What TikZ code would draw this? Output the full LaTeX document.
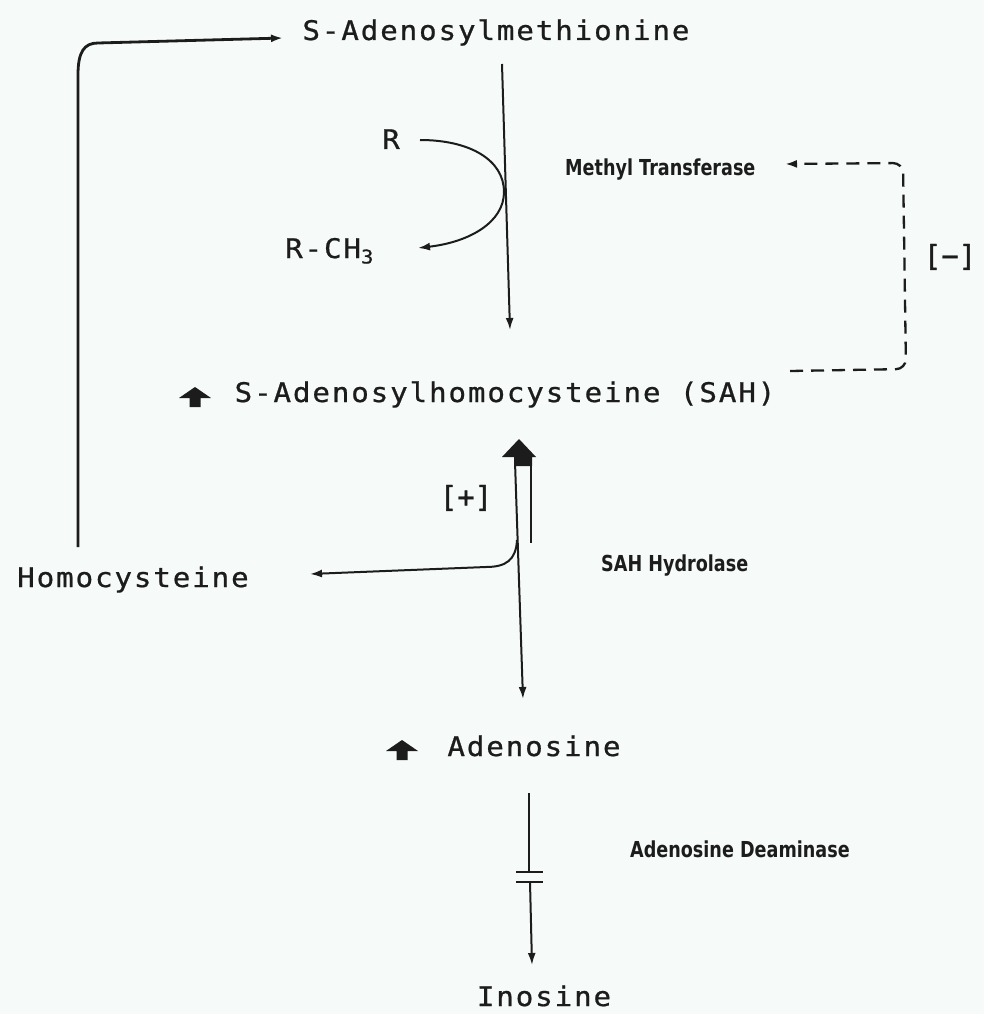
\documentclass[tikz,border=0pt]{standalone}
\usepackage{fontspec}
\usetikzlibrary{arrows.meta,calc}
\newfontfamily\labfont[FakeStretch=1.08,LetterSpace=7,FakeBold=0.8]{DejaVu Sans Mono}
\newfontfamily\brkfont[FakeBold=1.2]{DejaVu Sans Mono}
\newfontfamily\enzfont[FakeStretch=0.8]{DejaVu Sans}
\definecolor{ink}{RGB}{28,28,28}
\definecolor{paper}{RGB}{246,250,249}
\begin{document}
\begin{tikzpicture}[x=1pt,y=-1pt,
  lab/.style={font=\labfont\fontsize{27}{32}\selectfont, text=ink, inner sep=0pt, anchor=base},
  brk/.style={font=\brkfont\fontsize{29}{34}\selectfont, text=ink, inner sep=0pt, anchor=base},
  enz/.style={font=\enzfont\bfseries\fontsize{22}{26}\selectfont, text=ink, inner sep=0pt, anchor=base west},
  ln/.style={draw=ink, line width=2pt},
  arrw/.style={-{Latex[length=12pt,width=8pt]}},
  dsh/.style={draw=ink, line width=2.3pt, dash pattern=on 13pt off 8pt},
  blockup/.pic={\fill[ink] (-5.5,0) -- (-5.5,-9) -- (-16,-9) -- (0,-20) -- (16,-9) -- (5.5,-9) -- (5.5,0) -- cycle;}]
\fill[paper] (0,0) rectangle (984,1014);
\useasboundingbox (0,0) rectangle (984,1014);

% labels
\node[lab] (sam) at (496,40) {S-Adenosylmethionine};
\node[lab] (sah) at (505,402) {S-Adenosylhomocysteine (SAH)};
\node[lab] (hcy) at (133,587) {Homocysteine};
\node[lab] (ado) at (534,756) {Adenosine};
\node[lab] (ino) at (544,1006) {Inosine};
\node[lab] (r) at (391,149) {R};
\node[lab,anchor=base west] (rch) at (285,258) {R-CH\textsubscript{3}};
\node[brk] (plus) at (466,507) {[+]};
\node[brk] (minus) at (950,266) {[−]};
\node[enz] (mt) at (565,175) {Methyl Transferase};
\node[enz] (hyd) at (601,571) {SAH Hydrolase};
\node[enz] (ada) at (630,857) {Adenosine Deaminase};

% block arrows
\pic at (195,407) {blockup};
\pic at (402,760) {blockup};

% coordinates
\coordinate (loopS) at (78,547);
\coordinate (loopE) at (283,38);
\coordinate (samB) at (502,64);
\coordinate (sahT) at (510,330);
\coordinate (rS) at (420,140);
\coordinate (rE) at (418,248);
\coordinate (sahR) at (790,371);
\coordinate (mtR) at (785,164);
\coordinate (hydTop) at (515,462);
\coordinate (hydR) at (531,462);
\coordinate (hydRb) at (531,543);
\coordinate (adoT) at (523,699);
\coordinate (hcyJ) at (517,540);
\coordinate (hcyE) at (310,574);
\coordinate (adaS) at (529,793);
\coordinate (adaB) at (529,872);
\coordinate (adaC) at (530,882);
\coordinate (inoT) at (532,965);

% top loop: homocysteine -> SAM
\draw[ln, line width=2.8pt, arrw] (loopS) -- (78,75) .. controls (78,52) and (84,43) .. (98,43) -- (loopE);

% SAM -> SAH
\draw[ln, arrw] (samB) -- (sahT);
% R -> R-CH3
\draw[ln, arrw] (rS) .. controls (470,140) and (504,160) .. (504,192) .. controls (504,222) and (470,242) .. (rE);

% feedback inhibition
\draw[dsh, -{Latex[length=12pt,width=8pt]}, rounded corners=10pt] (sahR) -- (906,369) -- (903,163) -- (mtR);

% SAH hydrolase
\fill[ink] (502,457) -- (519,439) -- (536,457) -- (532,457) -- (532,466) -- (514,466) -- (514,457) -- cycle;
\draw[ln] (hydR) -- (hydRb);
\draw[ln, arrw] (hydTop) -- (adoT);
\draw[ln, arrw] (hcyJ) .. controls (516,560) and (506,567) .. (486,567) -- (hcyE);

% adenosine deaminase (blocked)
\draw[ln] (adaS) -- (adaB);
\draw[ln] (516,872) -- (543,872);
\draw[ln] (516,882) -- (543,882);
\draw[ln, arrw] (adaC) -- (inoT);
\end{tikzpicture}
\end{document}
